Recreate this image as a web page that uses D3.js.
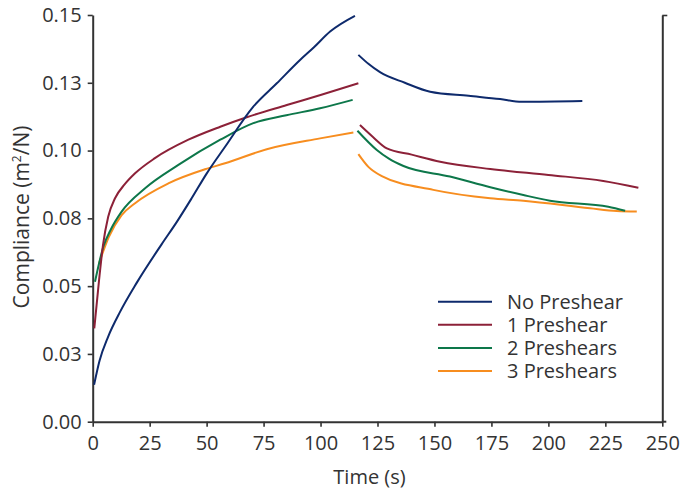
<!DOCTYPE html>
<html>
<head>
<meta charset="utf-8">
<script src="https://cdn.jsdelivr.net/npm/d3@7"></script>
<style>
  body { margin: 0; background: #fff; }
  svg text { font-family: "Open Sans", "DejaVu Sans", sans-serif; fill: #333; }
</style>
</head>
<body>
<svg id="chart" width="693" height="490"></svg>
<script>
// series names + colours
var seriesNames = ["No Preshear", "1 Preshear", "2 Preshears", "3 Preshears"];
var seriesColors = ["#0e2a6c", "#8c2138", "#0d774a", "#f78d1f"];

// creep part (time s, compliance m2/N)
var noPreshearCreep = [[0.6,0.0136],[3,0.0225],[6.8,0.0314],[12,0.0405],[19.3,0.0512],[30.3,0.0655],[37,0.0738],[43.5,0.0825],[50,0.0915],[58.1,0.1014],[70.5,0.1162],[80.8,0.1248],[91,0.1334],[97,0.138],[104.2,0.1439],[115.1,0.1497]];
var onePreshearCreep = [[0.7,0.0344],[2.8,0.0523],[4.5,0.065],[6.8,0.0756],[9.8,0.0824],[14,0.0875],[18.6,0.0916],[27.3,0.0972],[42,0.104],[56,0.1088],[67.6,0.1123],[85.2,0.1168],[100,0.1205],[116.6,0.1248]];
var twoPreshearCreep = [[1,0.0516],[4.7,0.0646],[8,0.071],[12.7,0.0775],[23,0.0861],[37.6,0.0947],[56,0.104],[70.5,0.1101],[85,0.113],[99.8,0.1156],[114.1,0.1187]];
var threePreshearCreep = [[2.8,0.0585],[7,0.068],[12.7,0.0762],[18.6,0.0806],[33.2,0.0879],[49.3,0.0931],[58.1,0.0953],[76.4,0.1005],[99.8,0.1045],[114.4,0.1067]];

// recovery part
var noPreshearRecovery = [[116.6,0.1353],[121,0.132],[126.1,0.1289],[137,0.125],[148.1,0.1217],[165,0.1202],[178.8,0.119],[188.3,0.118],[214.9,0.1183]];
var onePreshearRecovery = [[117.3,0.1094],[123,0.105],[129.1,0.1008],[140,0.0985],[152.5,0.0959],[174.5,0.0932],[200,0.091],[224.1,0.0888],[239.5,0.0863]];
var twoPreshearRecovery = [[116.2,0.1073],[124.7,0.1002],[130,0.097],[136.4,0.0943],[156.8,0.0904],[174.5,0.0865],[189,0.0836],[200.7,0.0815],[226.3,0.0793],[233.7,0.0778]];
var threePreshearRecovery = [[116.6,0.0987],[121,0.094],[126.9,0.0906],[149.5,0.0855],[174.5,0.0824],[189,0.0815],[218.3,0.0787],[230,0.0777],[238.8,0.0775]];

// ticks
var xTicks = [0, 25, 50, 75, 100, 125, 150, 175, 200, 225, 250];
var yTicks = [0, 0.025, 0.05, 0.075, 0.1, 0.125, 0.15];
var yTickLabels = ["0.00", "0.03", "0.05", "0.08", "0.10", "0.13", "0.15"];

// plot box (window.top is taken, so own names)
var plotLeft = 92.7, plotRight = 662.3, plotTop = 15, plotBottom = 421.7;
var svg = d3.select("#chart");

var x = d3.scaleLinear().domain([0, 250]).range([plotLeft, plotRight]);
var y = d3.scaleLinear().domain([0, 0.15]).range([plotBottom, plotTop]);

// axes
var xAxis = svg.append("g")
    .attr("transform", "translate(0," + plotBottom + ")")
    .call(d3.axisBottom(x).tickValues(xTicks).tickSize(5).tickPadding(9).tickSizeOuter(0));
var yAxis = svg.append("g")
    .attr("transform", "translate(" + plotLeft + ",0)")
    .call(d3.axisLeft(y).tickValues(yTicks).tickSize(5).tickPadding(6).tickSizeOuter(0)
        .tickFormat(function(d, i){ return yTickLabels[i]; }));
// right side frame line
var rAxis = svg.append("g")
    .attr("transform", "translate(" + plotRight + ",0)")
    .call(d3.axisRight(y).tickValues([0.15]).tickSize(5).tickFormat("").tickSizeOuter(0));

[xAxis, yAxis, rAxis].forEach(function(a){
    a.selectAll(".domain").attr("stroke", "#333").attr("stroke-width", 2);
    a.selectAll(".tick line").attr("stroke", "#333").attr("stroke-width", 1.6);
    a.selectAll("text").attr("font-size", 20).attr("fill", "#333");
});
// extend bottom line a bit past right frame
svg.append("line")
    .attr("x1", plotRight).attr("x2", plotRight + 4)
    .attr("y1", plotBottom).attr("y2", plotBottom)
    .attr("stroke", "#333").attr("stroke-width", 2);

// lines
var line = d3.line()
    .x(function(d){ return x(d[0]); })
    .y(function(d){ return y(d[1]); })
    .curve(d3.curveMonotoneX);

var segments = [
    [noPreshearCreep, noPreshearRecovery],
    [onePreshearCreep, onePreshearRecovery],
    [twoPreshearCreep, twoPreshearRecovery],
    [threePreshearCreep, threePreshearRecovery]
];

// draw back to front so navy ends on top
for (var i = segments.length - 1; i >= 0; i--) {
    segments[i].forEach(function(seg){
        svg.append("path")
            .attr("d", line(seg))
            .attr("fill", "none")
            .attr("stroke", seriesColors[i])
            .attr("stroke-width", 2);
    });
}

// legend
var legend = svg.append("g");
seriesNames.forEach(function(name, i){
    var ly = 301.7 + i * 23.1;
    legend.append("line")
        .attr("x1", 438).attr("x2", 492)
        .attr("y1", ly).attr("y2", ly)
        .attr("stroke", seriesColors[i]).attr("stroke-width", 2);
    legend.append("text")
        .attr("x", 507).attr("y", ly)
        .attr("dy", "0.35em")
        .attr("font-size", 20)
        .text(name);
});

// axis titles
svg.append("text")
    .attr("x", (plotLeft + plotRight) / 2 - 8).attr("y", 484)
    .attr("text-anchor", "middle")
    .attr("font-size", 20)
    .text("Time (s)");

var yt = svg.append("text")
    .attr("transform", "translate(29," + 217 + ") rotate(-90)")
    .attr("text-anchor", "middle")
    .attr("font-size", 21);
yt.append("tspan").text("Compliance (m");
yt.append("tspan").attr("font-size", 12).attr("dy", -8).text("2");
yt.append("tspan").attr("dy", 8).text("/N)");
</script>
</body>
</html>
